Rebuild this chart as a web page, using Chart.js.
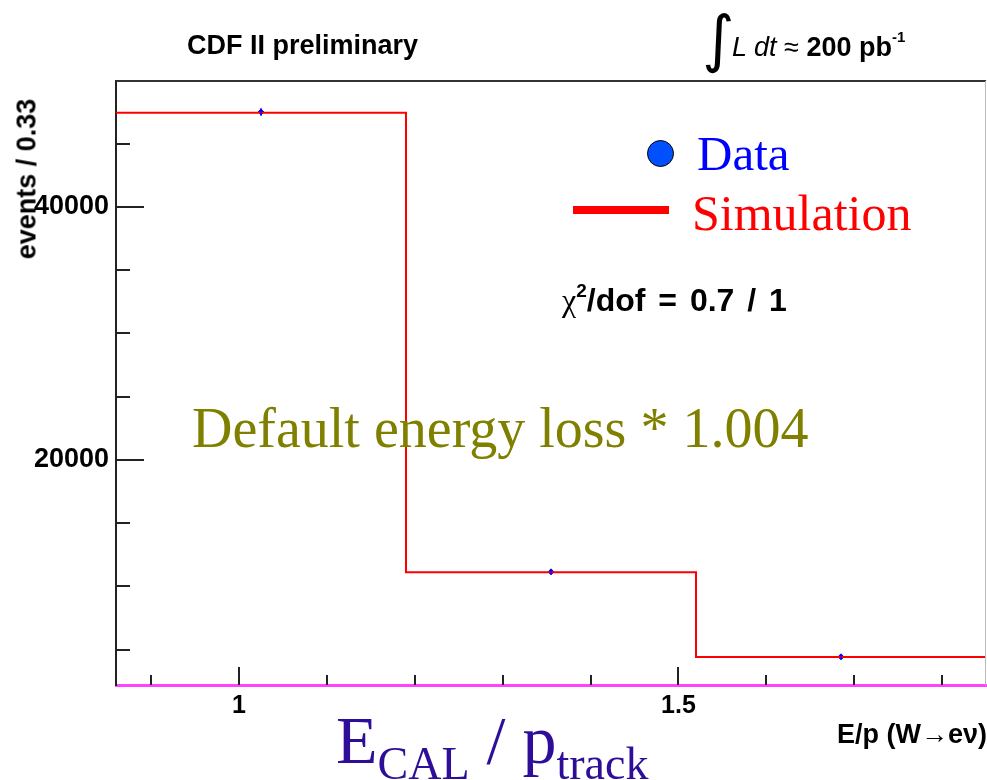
<!DOCTYPE html>
<html>
<head>
<meta charset="utf-8">
<script src="https://cdn.jsdelivr.net/npm/chart.js@4"></script>
<style>
    body { margin: 0; background: #fff; }
    #wrap { position: relative; width: 987px; height: 780px; overflow: hidden; }
    .txt { position: absolute; white-space: nowrap; line-height: 1; }
    .sans { font-family: 'Liberation Sans', Arial, sans-serif; }
    .serif { font-family: 'Liberation Serif', 'Times New Roman', serif; }
</style>
</head>
<body>
<div id="wrap">
    <canvas id="chartCanvas" width="987" height="780"></canvas>

    <div class="txt sans" style="left:187px; top:32px; font-size:27px; font-weight:bold;">CDF II preliminary</div>

    <div class="txt" style="left:702px; top:0px;">
        <span style="font-family:'DejaVu Sans'; font-size:62px; position:absolute; left:0; top:8px;">&#8747;</span>
        <span class="sans" style="position:absolute; left:30px; top:33px; font-size:27px;"><i>L dt</i> &#8776; <b>200 pb</b><sup style="font-size:15px; font-weight:bold; position:relative; top:-4px;">-1</sup></span>
    </div>

    <div class="txt sans" style="left:27px; top:179px; font-size:27px; font-weight:bold; transform:translate(-50%,-50%) rotate(-90deg);">events / 0.33</div>

    <div class="txt sans" style="right:0px; top:721px; font-size:27px; font-weight:bold;">E/p (W<span style="font-weight:normal;">&#8594;</span>e&#957;)</div>

    <!-- legend -->
    <div style="position:absolute; left:647px; top:140px; width:25px; height:25px; border-radius:50%; background:#0050ff; border:1px solid #000;"></div>
    <div class="txt serif" style="left:697px; top:129px; font-size:49px; color:#0000ff;">Data</div>
    <div style="position:absolute; left:573px; top:206px; width:96px; height:8px; background:#ff0000;"></div>
    <div class="txt serif" style="left:692px; top:188px; font-size:50px; color:#ff0000;">Simulation</div>

    <div class="txt sans" style="left:562px; top:283px; font-size:32px; font-weight:bold; word-spacing:4px;"><span class="serif" style="font-weight:normal;">&#967;</span><sup style="font-size:19px; position:relative; top:-2px;">2</sup>/dof = 0.7 / 1</div>

    <div class="txt serif" style="left:192px; top:400px; font-size:56px; color:#808000;">Default energy loss * 1.004</div>

    <div class="txt serif" style="left:336px; top:706px; font-size:68px; color:#2e0d99;">E<sub style="font-size:46px; position:relative; top:16px; vertical-align:baseline;">CAL</sub> / p<sub style="font-size:46px; position:relative; top:16px; vertical-align:baseline;">track</sub></div>
</div>

<script>
// Histogram binning (E/p, bin width 0.33)
const binEdges = [0.86, 1.19, 1.52, 1.85];
// Simulation histogram contents per bin
const simValues = [47450, 11110, 4420];
// Data points per bin and their errors
const dataValues = [47510, 11146, 4427];
const dataErrors = [218, 106, 67];
// Axis ranges, tick positions and labelled ticks
const xRange = [0.86, 1.85];
const yRange = [2200, 49960];
const xTicks = [0.9, 1.0, 1.1, 1.2, 1.3, 1.4, 1.5, 1.6, 1.7, 1.8];
const yTicks = [5000, 10000, 15000, 20000, 25000, 30000, 35000, 40000, 45000];
const xTickLabels = [1, 1.5];
const yTickLabels = [20000, 40000];

// Function to build the step line points from the bin edges
function buildStepPoints() {
    let pts = [];
    for (let i = 0; i < simValues.length; i++) {
        pts.push({ x: binEdges[i], y: simValues[i] });
    }
    pts.push({ x: binEdges[binEdges.length - 1], y: simValues[simValues.length - 1] });
    return pts;
}

// Function to build data points at the bin centres
function buildDataPoints() {
    return dataValues.map((v, i) => ({
        x: (binEdges[i] + binEdges[i + 1]) / 2,
        y: v,
        err: dataErrors[i]
    }));
}

function findLabel(list, v) {
    return list.find(t => Math.abs(t - v) < 1e-6);
}

// Plugin to draw the ROOT style frame, inward ticks and error bars
const frameAndTicks = {
    id: 'frameAndTicks',
    afterDatasetsDraw(chart) {
        const ctx = chart.ctx;
        const area = chart.chartArea;
        const xs = chart.scales.x;
        const ys = chart.scales.y;
        ctx.save();

        // error bars on data points
        ctx.strokeStyle = '#0000ff';
        ctx.lineWidth = 1.5;
        chart.data.datasets[1].data.forEach(p => {
            const px = xs.getPixelForValue(p.x);
            ctx.beginPath();
            ctx.moveTo(px, ys.getPixelForValue(p.y - p.err) + 1);
            ctx.lineTo(px, ys.getPixelForValue(p.y + p.err) - 1);
            ctx.stroke();
        });

        // top and right frame
        ctx.strokeStyle = '#333';
        ctx.lineWidth = 2;
        ctx.beginPath();
        ctx.moveTo(area.left, area.top);
        ctx.lineTo(area.right, area.top);
        ctx.stroke();
        ctx.strokeStyle = '#bbb';
        ctx.lineWidth = 1;
        ctx.beginPath();
        ctx.moveTo(area.right - 0.5, area.top);
        ctx.lineTo(area.right - 0.5, area.bottom);
        ctx.stroke();

        // inward ticks
        ctx.strokeStyle = '#222';
        ctx.lineWidth = 2;
        ys.ticks.forEach(t => {
            const py = Math.round(ys.getPixelForValue(t.value));
            const len = findLabel(yTickLabels, t.value) !== undefined ? 28 : 14;
            ctx.beginPath();
            ctx.moveTo(area.left, py);
            ctx.lineTo(area.left + len, py);
            ctx.stroke();
        });
        xs.ticks.forEach(t => {
            const px = Math.round(xs.getPixelForValue(t.value));
            const len = findLabel(xTickLabels, t.value) !== undefined ? 18 : 10;
            ctx.beginPath();
            ctx.moveTo(px, area.bottom);
            ctx.lineTo(px, area.bottom - len);
            ctx.stroke();
        });
        ctx.restore();
    }
};

const xTickFont = { family: "'Liberation Sans', Arial, sans-serif", weight: 'bold', size: 25 };
const yTickFont = { family: "'Liberation Sans', Arial, sans-serif", weight: 'bold', size: 27 };

const chart = new Chart(document.getElementById('chartCanvas').getContext('2d'), {
    type: 'line',
    data: {
        datasets: [
            {
                label: 'Simulation',
                data: buildStepPoints(),
                borderColor: '#ff0000',
                borderWidth: 2,
                stepped: 'before',
                pointRadius: 0,
                fill: false
            },
            {
                label: 'Data',
                type: 'scatter',
                data: buildDataPoints(),
                backgroundColor: '#0000ff',
                borderColor: '#0000ff',
                pointRadius: 3,
                pointStyle: 'rectRot'
            }
        ]
    },
    options: {
        responsive: false,
        devicePixelRatio: 1,
        animation: false,
        layout: { autoPadding: false, padding: { top: 81, right: 1, left: 0, bottom: 0 } },
        plugins: { legend: { display: false }, tooltip: { enabled: false } },
        scales: {
            x: {
                type: 'linear',
                min: xRange[0],
                max: xRange[1],
                afterBuildTicks: s => { s.ticks = xTicks.map(v => ({ value: v })); },
                afterFit: s => { s.height = 95; s.paddingLeft = 0; s.paddingRight = 0; },
                grid: { display: false },
                border: { display: true, color: '#ff44ff', width: 3 },
                ticks: {
                    autoSkip: false,
                    maxRotation: 0,
                    padding: -2,
                    color: '#000',
                    font: xTickFont,
                    callback: v => {
                        const lab = findLabel(xTickLabels, v);
                        return lab !== undefined ? String(lab) : '';
                    }
                }
            },
            y: {
                min: yRange[0],
                max: yRange[1],
                afterBuildTicks: s => { s.ticks = yTicks.map(v => ({ value: v })); },
                afterFit: s => { s.width = 116; s.paddingTop = 0; s.paddingBottom = 0; },
                grid: { display: false },
                border: { display: true, color: '#222', width: 2 },
                ticks: {
                    autoSkip: false,
                    padding: -1,
                    color: '#000',
                    font: yTickFont,
                    callback: v => {
                        const lab = findLabel(yTickLabels, v);
                        return lab !== undefined ? String(lab) : '';
                    }
                }
            }
        }
    },
    plugins: [frameAndTicks]
});
</script>
</body>
</html>
